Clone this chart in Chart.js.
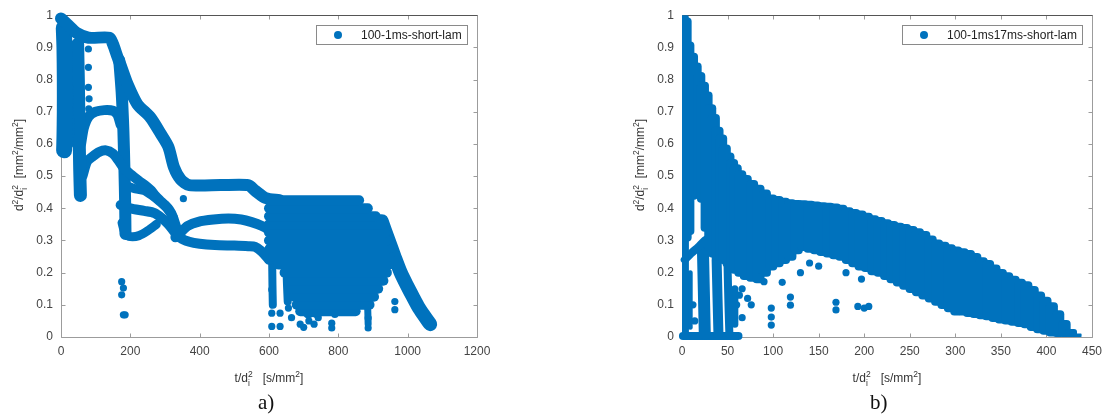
<!DOCTYPE html>
<html>
<head>
<meta charset="utf-8">
<script src="https://cdn.jsdelivr.net/npm/chart.js@4.4.0/dist/chart.umd.min.js"></script>
<style>
  body { margin: 0; background: #fff; width: 1109px; height: 419px; position: relative; overflow: hidden; }
  canvas { position: absolute; top: 0; }
  #chartA { left: 0; }
  #chartB { left: 555px; }
  .cap { position: absolute; top: 392px; font: 21px 'Liberation Serif', serif; line-height: 1; color: #111; }
</style>
</head>
<body>
<canvas id="chartA" width="555" height="419"></canvas>
<canvas id="chartB" width="554" height="419"></canvas>
<div class="cap" style="left:258px">a)</div>
<div class="cap" style="left:870px">b)</div>
<script>
// ══════════════════════════════════════
// DATA
// ══════════════════════════════════════
const Y_TICKS   = [0, 0.1, 0.2, 0.3, 0.4, 0.5, 0.6, 0.7, 0.8, 0.9, 1];
const A_X_TICKS = [0, 200, 400, 600, 800, 1000, 1200];
const B_X_TICKS = [0, 50, 100, 150, 200, 250, 300, 350, 400, 450];
const A_LABEL = '100-1ms-short-lam';
const B_LABEL = '100-1ms17ms-short-lam';

// a) trajectories (dense bands of markers)
const A_TOP_X  = [0, 20, 45, 80, 140, 150, 163, 175, 192, 220, 258, 288, 310, 326, 345, 370, 460, 540, 560, 590, 630];
const A_TOP_Y  = [0.99, 0.97, 0.945, 0.93, 0.93, 0.91, 0.87, 0.836, 0.786, 0.724, 0.682, 0.631, 0.59, 0.527, 0.49, 0.472, 0.472, 0.472, 0.455, 0.432, 0.425];
const A_COLA_X = [8, 10, 11, 11, 10, 9];
const A_COLA_Y = [0.96, 0.9, 0.8, 0.7, 0.62, 0.58];
const A_COLA2_X = [20, 23, 25, 24];
const A_COLA2_Y = [0.84, 0.74, 0.66, 0.6];
const A_COLB_X = [48, 50, 52, 54, 56];
const A_COLB_Y = [0.91, 0.8, 0.65, 0.52, 0.44];
const A_SPIKE_X = [10, 25, 45];
const A_SPIKE_Y = [0.74, 0.82, 0.9];
const A_C70_X  = [58, 66, 80, 100, 125, 150, 163, 172];
const A_C70_Y  = [0.6, 0.65, 0.685, 0.70, 0.705, 0.703, 0.69, 0.66];
const A_C57_X  = [62, 75, 90, 110, 130, 150, 165, 185, 204, 225, 242, 260, 271, 285, 300, 312, 322, 334, 348, 370, 400, 444, 500, 540, 560, 580, 600];
const A_C57_Y  = [0.5, 0.545, 0.56, 0.575, 0.58, 0.57, 0.55, 0.52, 0.503, 0.485, 0.472, 0.455, 0.44, 0.425, 0.41, 0.395, 0.375, 0.337, 0.306, 0.296, 0.29, 0.286, 0.284, 0.282, 0.28, 0.265, 0.24];
const A_COLM_X = [168, 175, 180, 183, 185, 186];
const A_COLM_Y = [0.86, 0.76, 0.64, 0.52, 0.42, 0.32];
const A_MID_X  = [190, 215, 240, 262, 285, 305, 325];
const A_MID_Y  = [0.47, 0.46, 0.455, 0.44, 0.42, 0.40, 0.37];
const A_C40_X  = [172, 200, 240, 270, 290, 310, 325, 340];
const A_C40_Y  = [0.41, 0.40, 0.392, 0.385, 0.37, 0.35, 0.33, 0.31];
const A_C31_X  = [176, 186, 200, 225, 250, 275];
const A_C31_Y  = [0.355, 0.32, 0.312, 0.315, 0.33, 0.35];
const A_C36_X  = [330, 345, 365, 396, 440, 483, 520, 550, 580, 605];
const A_C36_Y  = [0.31, 0.325, 0.345, 0.358, 0.365, 0.368, 0.365, 0.357, 0.345, 0.33];
// a) dense cloud 600–950, read as horizontal runs (left / right t) at each level
const A_BLOB_LEVEL = [0.425, 0.40, 0.375, 0.35, 0.325, 0.30, 0.275, 0.25, 0.225, 0.20, 0.175, 0.15, 0.125, 0.10, 0.08];
const A_BLOB_X0    = [600, 600, 600, 600, 600, 600, 602, 612, 628, 645, 657, 665, 673, 680, 690];
const A_BLOB_X1    = [860, 885, 908, 925, 935, 942, 946, 947, 946, 940, 930, 915, 903, 890, 850];
const A_STRIP_X = [925, 945, 962, 980, 998, 1015, 1030, 1045, 1058, 1065];
const A_STRIP_Y = [0.36, 0.30, 0.25, 0.20, 0.16, 0.125, 0.095, 0.07, 0.05, 0.04];
const A_F1_X = [609, 610, 611];
const A_F1_Y = [0.25, 0.16, 0.1];
const A_F2_X = [884, 886];
const A_F2_Y = [0.12, 0.04];
const A_F3_X = [650, 652, 654];
const A_F3_Y = [0.22, 0.16, 0.11];
const A_F4_X = [700, 712, 725, 740];
const A_F4_Y = [0.09, 0.07, 0.075, 0.07];
const A_DOT_X = [79, 79, 79, 81, 80, 175, 180, 175, 180, 185, 353, 608, 608, 632, 608, 632, 656, 665, 690, 700, 715, 730, 742, 725, 781, 781, 790, 760, 886, 886, 963, 963];
const A_DOT_Y = [0.895, 0.838, 0.776, 0.74, 0.709, 0.172, 0.152, 0.131, 0.069, 0.069, 0.43, 0.147, 0.074, 0.074, 0.033, 0.033, 0.09, 0.06, 0.04, 0.03, 0.05, 0.04, 0.06, 0.09, 0.043, 0.028, 0.07, 0.09, 0.028, 0.059, 0.11, 0.085];

// b) main cloud as vertical spans (low / high) at each t
const B_MASS_X  = [1, 4, 7, 11, 15, 19, 23, 27, 31, 35, 39, 43, 47, 51, 55, 59, 64, 70, 77, 84, 91, 98, 105, 112, 119, 126, 133, 140, 147, 154, 161, 168, 175, 182, 189, 196, 203, 210, 217, 224, 231, 238, 245, 252, 259, 266, 273, 280, 287, 294, 301, 308, 315, 322, 329, 336, 343, 350, 357, 364, 371, 378, 385, 392, 399, 406, 413, 420, 427, 432];
const B_MASS_LO = [0, 0.3, 0.32, 0.43, 0.44, 0.44, 0.42, 0.33, 0.27, 0.25, 0.24, 0.24, 0.23, 0.22, 0.21, 0.2, 0.19, 0.18, 0.175, 0.17, 0.19, 0.21, 0.22, 0.23, 0.24, 0.26, 0.27, 0.265, 0.26, 0.255, 0.25, 0.245, 0.24, 0.23, 0.22, 0.21, 0.205, 0.195, 0.19, 0.18, 0.17, 0.16, 0.15, 0.14, 0.13, 0.12, 0.11, 0.10, 0.09, 0.08, 0.07, 0.07, 0.065, 0.062, 0.058, 0.055, 0.05, 0.045, 0.042, 0.038, 0.034, 0.03, 0.022, 0.015, 0.01, 0.005, 0.003, 0.003, 0.003, 0.003];
const B_MASS_HI = [1.0, 0.99, 0.915, 0.88, 0.85, 0.82, 0.79, 0.76, 0.72, 0.69, 0.65, 0.626, 0.595, 0.57, 0.55, 0.534, 0.515, 0.50, 0.485, 0.47, 0.455, 0.44, 0.435, 0.43, 0.425, 0.423, 0.422, 0.42, 0.418, 0.416, 0.414, 0.412, 0.408, 0.40, 0.395, 0.39, 0.383, 0.375, 0.37, 0.363, 0.357, 0.352, 0.348, 0.342, 0.335, 0.326, 0.312, 0.30, 0.293, 0.285, 0.278, 0.273, 0.267, 0.258, 0.245, 0.236, 0.222, 0.208, 0.198, 0.187, 0.178, 0.17, 0.155, 0.138, 0.122, 0.105, 0.08, 0.05, 0.022, 0.008];
const B_CURVE_X = [3, 10, 18, 25, 32];
const B_CURVE_Y = [0.24, 0.26, 0.28, 0.30, 0.31];
const B_C1_X = [9, 9];       const B_C1_Y = [0.2, 0.03];
const B_C2_X = [23, 24, 25]; const B_C2_Y = [0.27, 0.14, 0.01];
const B_C3_X = [38, 39, 40]; const B_C3_Y = [0.24, 0.12, 0.01];
const B_C4_X = [50, 51, 52]; const B_C4_Y = [0.22, 0.1, 0.01];
const B_C5_X = [58, 58];     const B_C5_Y = [0.15, 0.04];
const B_BOT_X = [1, 62];     const B_BOT_Y = [0.003, 0.003];
const B_DOT_X = [98, 98, 98, 119, 119, 169, 169, 193, 200, 205, 90, 110, 130, 150, 66, 72, 76, 66, 140, 180, 197, 60, 63, 12, 14];
const B_DOT_Y = [0.09, 0.062, 0.037, 0.124, 0.099, 0.108, 0.084, 0.095, 0.09, 0.095, 0.172, 0.17, 0.2, 0.22, 0.15, 0.12, 0.1, 0.06, 0.23, 0.2, 0.18, 0.10, 0.13, 0.1, 0.05];

// ══════════════════════════════════════
// HELPERS
// ══════════════════════════════════════
const BLUE = '#0072BD';
const FONT = '"Liberation Sans", Arial, sans-serif';

const pts = (xs, ys) => xs.map((x, i) => ({ x, y: ys[i] }));

function band(xs, ys, w) {
  return { data: pts(xs, ys), showLine: true, borderColor: BLUE, borderWidth: w, pointRadius: 0,
           borderCapStyle: 'round', borderJoinStyle: 'round', tension: 0.25, fill: false, clip: false };
}
// horizontal runs of a cloud, one short line per level
function runs(levels, x0, x1, w) {
  return levels.map((y, i) => band([x0[i], x1[i]], [y, y], w));
}
// dense cloud: one floating bar (low..high) per t value
function spans(xs, lo, hi, w) {
  return { type: 'bar', data: xs.map((x, i) => ({ x, y: [lo[i], hi[i]] })), backgroundColor: BLUE,
           borderColor: BLUE, borderWidth: 0, borderSkipped: false, borderRadius: 4, barThickness: w,
           grouped: false, inflateAmount: 1 };
}
function dots(xs, ys) {
  return { data: pts(xs, ys), showLine: false, pointRadius: 3.6, pointBackgroundColor: BLUE,
           pointBorderWidth: 0, borderColor: BLUE, fill: false, clip: false };
}

// d²/dᵢ² style text: [text, kind]  kind: '' | 'sup' | 'ss' (sup|sub stacked)
const Y_TITLE = [['d', ''], ['2', 'sup'], ['/d', ''], ['2|i', 'ss'], ['  [mm', ''], ['2', 'sup'], ['/mm', ''], ['2', 'sup'], [']', '']];
const X_TITLE = [['t/d', ''], ['2|i', 'ss'], ['   [s/mm', ''], ['2', 'sup'], [']', '']];

function drawRich(ctx, segs, cx, cy, rot) {
  const big = '12px ' + FONT, small = '8.5px ' + FONT;
  let w = 0;
  const ws = segs.map(([t, k]) => {
    ctx.font = k ? small : big;
    const ww = k === 'ss' ? Math.max(...t.split('|').map(s => ctx.measureText(s).width)) : ctx.measureText(t).width;
    w += ww;
    return ww;
  });
  ctx.save();
  ctx.translate(cx, cy);
  ctx.rotate(rot);
  ctx.fillStyle = '#333';
  ctx.textAlign = 'left';
  ctx.textBaseline = 'alphabetic';
  let x = -w / 2;
  segs.forEach(([t, k], i) => {
    ctx.font = k ? small : big;
    if (k === 'sup') ctx.fillText(t, x, -1);
    else if (k === 'ss') { const [a, b] = t.split('|'); ctx.fillText(a, x, -1); ctx.fillText(b, x, 8); }
    else ctx.fillText(t, x, 4);
    x += ws[i];
  });
  ctx.restore();
}

// MATLAB-like box with inward ticks
const mlFrame = {
  id: 'mlFrame',
  beforeDatasetsDraw(chart) {
    const { ctx, chartArea: a, scales: { x, y } } = chart;
    const L = Math.round(a.left) + 0.5, R = Math.round(a.right) + 0.5;
    const T = Math.round(a.top) + 0.5, B = Math.round(a.bottom) + 0.5;
    ctx.save();
    ctx.lineWidth = 1;
    ctx.strokeStyle = '#9c9c9c';
    ctx.beginPath();
    ctx.moveTo(L, T); ctx.lineTo(L, B); ctx.lineTo(R, B); ctx.lineTo(R, T);
    x.ticks.forEach(t => {
      const p = Math.round(x.getPixelForValue(t.value)) + 0.5;
      ctx.moveTo(p, B); ctx.lineTo(p, B - 4);
      ctx.moveTo(p, T); ctx.lineTo(p, T + 4);
    });
    y.ticks.forEach(t => {
      const p = Math.round(y.getPixelForValue(t.value)) + 0.5;
      ctx.moveTo(L, p); ctx.lineTo(L + 4, p);
      ctx.moveTo(R, p); ctx.lineTo(R - 4, p);
    });
    ctx.stroke();
    ctx.strokeStyle = '#555';
    ctx.beginPath(); ctx.moveTo(L, T); ctx.lineTo(R, T); ctx.stroke();
    ctx.restore();
  }
};

const mlDecor = {
  id: 'mlDecor',
  afterDraw(chart, args, opts) {
    const { ctx, chartArea: a } = chart;
    // axis titles
    drawRich(ctx, Y_TITLE, a.left - 42, 165, -Math.PI / 2);
    drawRich(ctx, X_TITLE, (a.left + a.right) / 2, 378, 0);
    // legend
    ctx.save();
    ctx.font = '12px ' + FONT;
    const tw = ctx.measureText(opts.text).width;
    const w = Math.round(tw + 50), h = 19;
    const x = Math.round(a.right) - 10 - w, y = Math.round(a.top) + 10;
    ctx.fillStyle = '#fff';
    ctx.fillRect(x, y, w, h);
    ctx.strokeStyle = '#8a8a8a';
    ctx.lineWidth = 1;
    ctx.strokeRect(x + 0.5, y + 0.5, w, h);
    ctx.fillStyle = BLUE;
    ctx.beginPath(); ctx.arc(x + 22, y + h / 2 + 0.5, 4, 0, Math.PI * 2); ctx.fill();
    ctx.fillStyle = '#222';
    ctx.textBaseline = 'middle';
    ctx.fillText(opts.text, x + 45, y + h / 2 + 1);
    ctx.restore();
  }
};

function makeChart(id, xTicks, xMax, padL, padR, datasets, label) {
  return new Chart(document.getElementById(id), {
    type: 'line',
    data: { datasets },
    plugins: [mlFrame, mlDecor],
    options: {
      responsive: false,
      animation: false,
      events: [],
      devicePixelRatio: 1,
      layout: { padding: { left: padL, right: padR, top: 14, bottom: 0 } },
      plugins: { legend: { display: false }, tooltip: { enabled: false }, mlDecor: { text: label } },
      scales: {
        x: {
          type: 'linear', min: 0, max: xMax, offset: false,
          afterBuildTicks: s => { s.ticks = xTicks.map(v => ({ value: v })); },
          afterFit: s => { s.height = 82; },
          grid: { display: false, drawTicks: false, offset: false },
          border: { display: false },
          ticks: { padding: 7, color: '#444', font: { family: FONT, size: 12 }, maxRotation: 0, autoSkip: false, callback: v => String(v) },
        },
        y: {
          type: 'linear', min: 0, max: 1,
          afterBuildTicks: s => { s.ticks = Y_TICKS.map(v => ({ value: v })); },
          afterFit: s => { s.width = 61; },
          grid: { display: false, drawTicks: false },
          border: { display: false },
          ticks: { padding: 8, color: '#444', font: { family: FONT, size: 12 }, autoSkip: false, callback: v => String(v) },
        },
      },
    },
  });
}

// ══════════════════════════════════════
// CHARTS
// ══════════════════════════════════════
makeChart('chartA', A_X_TICKS, 1200, 0, 78, [
  ...runs(A_BLOB_LEVEL, A_BLOB_X0, A_BLOB_X1, 10),
  band(A_TOP_X, A_TOP_Y, 12),
  band(A_COLA_X, A_COLA_Y, 16),
  band(A_COLA2_X, A_COLA2_Y, 9),
  band(A_COLB_X, A_COLB_Y, 13),
  band(A_SPIKE_X, A_SPIKE_Y, 7),
  band(A_C70_X, A_C70_Y, 10),
  band(A_C57_X, A_C57_Y, 10),
  band(A_COLM_X, A_COLM_Y, 12),
  band(A_MID_X, A_MID_Y, 9),
  band(A_C40_X, A_C40_Y, 10),
  band(A_C31_X, A_C31_Y, 9),
  band(A_C36_X, A_C36_Y, 10),
  band(A_STRIP_X, A_STRIP_Y, 14),
  band(A_F1_X, A_F1_Y, 8),
  band(A_F2_X, A_F2_Y, 7),
  band(A_F3_X, A_F3_Y, 8),
  band(A_F4_X, A_F4_Y, 8),
  dots(A_DOT_X, A_DOT_Y),
], A_LABEL);

makeChart('chartB', B_X_TICKS, 450, 66, 12, [
  spans(B_MASS_X, B_MASS_LO, B_MASS_HI, 10),
  band(B_CURVE_X, B_CURVE_Y, 8),
  band(B_C1_X, B_C1_Y, 5),
  band(B_C2_X, B_C2_Y, 12),
  band(B_C3_X, B_C3_Y, 10),
  band(B_C4_X, B_C4_Y, 8),
  band(B_C5_X, B_C5_Y, 7),
  band(B_BOT_X, B_BOT_Y, 8),
  dots(B_DOT_X, B_DOT_Y),
], B_LABEL);
</script>
</body>
</html>
